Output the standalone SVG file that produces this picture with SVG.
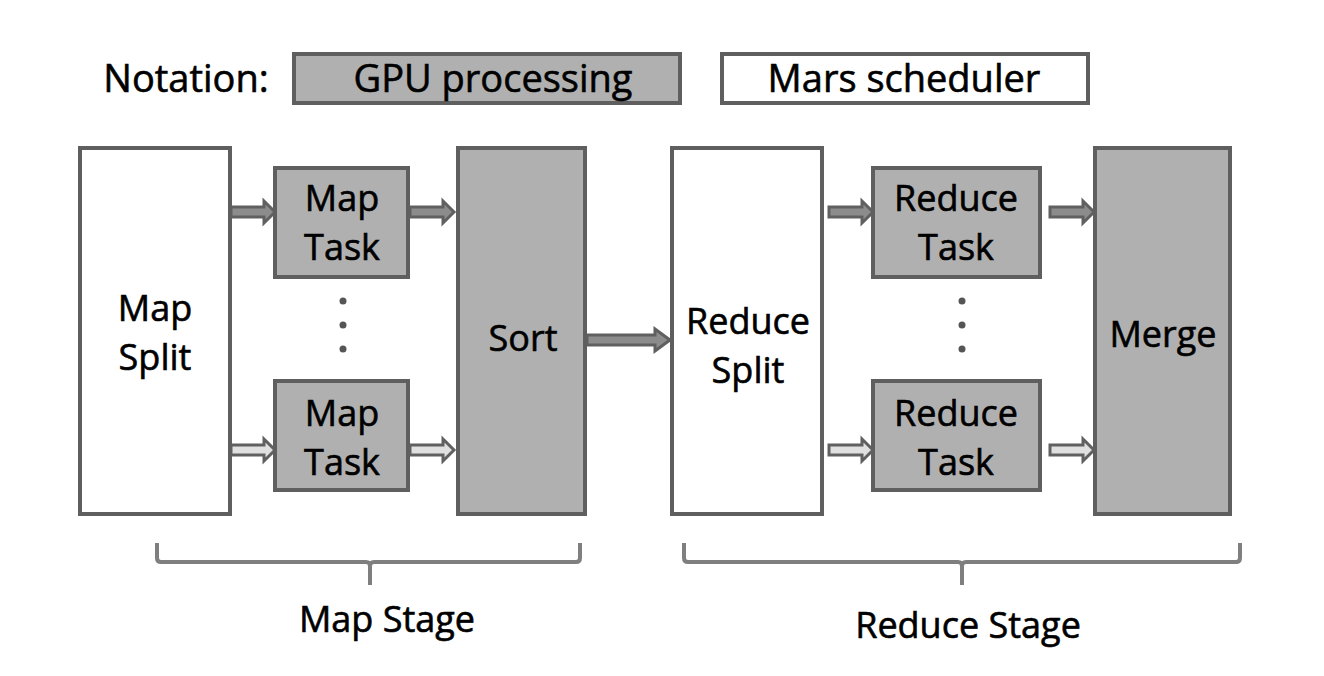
<svg xmlns="http://www.w3.org/2000/svg" width="1324" height="676" viewBox="0 0 1324 676">
<style>
text{font-family:"Open Sans","Noto Sans","Liberation Sans",sans-serif;font-size:36px;fill:#000;stroke:#000;stroke-width:0.6;text-anchor:middle}
.gpu{fill:#b0b0b0;stroke:#5f5f5f;stroke-width:4}
.mars{fill:#fff;stroke:#5f5f5f;stroke-width:4}
.arr{fill:#8c8c8c;stroke:#606060;stroke-width:3;stroke-linejoin:miter}
.arr2{fill:#e0e0e0;stroke:#606060;stroke-width:3;stroke-linejoin:miter}
.brace{fill:none;stroke:#7f7f7f;stroke-width:4;stroke-linejoin:round}
.dot{fill:#555}
</style>
<defs>
<path id="ar" class="arr" d="M0,-5 L33,-5 L33,-11 L44,0 L33,11 L33,5 L0,5 Z"/>
<path id="ar2" class="arr2" d="M0,-5 L33,-5 L33,-11 L44,0 L33,11 L33,5 L0,5 Z"/>
</defs>
<rect width="1324" height="676" fill="#fff"/>
<g id="notation">
<text x="186" y="92" style="font-size:38px">Notation:</text>
<g id="legend-gpu"><rect class="gpu" x="294" y="54" width="386" height="49"/><text x="493" y="92" style="font-size:38px">GPU processing</text></g>
<g id="legend-mars"><rect class="mars" x="722" y="54" width="366" height="49"/><text x="904" y="92" style="font-size:38px">Mars scheduler</text></g>
</g>
<g id="connectors">
<use href="#ar" x="231" y="212"/>
<use href="#ar2" x="231" y="450"/>
<use href="#ar" x="410" y="212"/>
<use href="#ar2" x="410" y="450"/>
<path class="arr" d="M587,335 L655,335 L655,329 L670,340 L655,351 L655,345 L587,345 Z"/>
<use href="#ar" x="829" y="212"/>
<use href="#ar2" x="829" y="450"/>
<use href="#ar" x="1050" y="212"/>
<use href="#ar2" x="1050" y="450"/>
</g>
<g id="map-split"><rect class="mars" x="80" y="148" width="150" height="366"/><text x="155" y="321">Map</text><text x="155" y="370">Split</text></g>
<g id="map-task-1"><rect class="gpu" x="275" y="168" width="133" height="109"/><text x="342" y="211">Map</text><text x="342" y="260">Task</text></g>
<g id="map-task-2"><rect class="gpu" x="275" y="381" width="133" height="109"/><text x="342" y="426">Map</text><text x="342" y="475">Task</text></g>
<g id="map-dots"><circle class="dot" cx="343" cy="301" r="3.5"/><circle class="dot" cx="343" cy="325" r="3.5"/><circle class="dot" cx="343" cy="349" r="3.5"/></g>
<g id="sort"><rect class="gpu" x="458" y="148" width="127" height="366"/><text x="523" y="351">Sort</text></g>
<g id="reduce-split"><rect class="mars" x="672" y="148" width="150" height="366"/><text x="748" y="334">Reduce</text><text x="748" y="383">Split</text></g>
<g id="reduce-task-1"><rect class="gpu" x="873" y="168" width="167" height="109"/><text x="956" y="211">Reduce</text><text x="956" y="260">Task</text></g>
<g id="reduce-task-2"><rect class="gpu" x="873" y="381" width="167" height="109"/><text x="956" y="426">Reduce</text><text x="956" y="475">Task</text></g>
<g id="reduce-dots"><circle class="dot" cx="962" cy="301" r="3.5"/><circle class="dot" cx="962" cy="325" r="3.5"/><circle class="dot" cx="962" cy="349" r="3.5"/></g>
<g id="merge"><rect class="gpu" x="1095" y="148" width="135" height="366"/><text x="1163" y="347">Merge</text></g>
<g id="map-stage"><path class="brace" d="M157,543 L157,558 Q157,562 161,562 L366,562 Q370,562 370,566 L370,585 M370,566 Q370,562 374,562 L576,562 Q580,562 580,558 L580,543"/><text x="387" y="632">Map Stage</text></g>
<g id="reduce-stage"><path class="brace" d="M684,543 L684,558 Q684,562 688,562 L958,562 Q962,562 962,566 L962,585 M962,566 Q962,562 966,562 L1236,562 Q1240,562 1240,558 L1240,543"/><text x="968" y="638">Reduce Stage</text></g>
</svg>
